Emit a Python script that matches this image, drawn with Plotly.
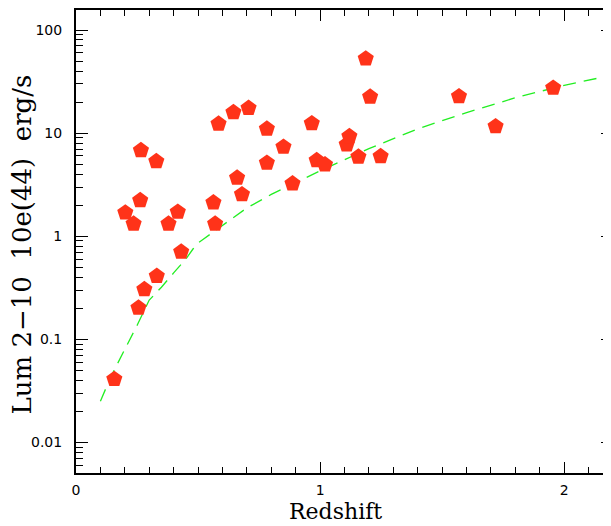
import plotly.graph_objects as go

# Data points (redshift, luminosity in 1e44 erg/s)
redshift = [0.157, 0.202, 0.236, 0.256, 0.263, 0.266, 0.280, 0.329, 0.331, 0.379,
            0.417, 0.431, 0.563, 0.570, 0.584, 0.645, 0.660, 0.680, 0.707, 0.782,
            0.782, 0.850, 0.887, 0.966, 0.986, 1.020, 1.109, 1.120, 1.157, 1.187,
            1.205, 1.248, 1.569, 1.719, 1.955]
lum = [0.041, 1.69, 1.32, 0.202, 2.23, 6.8, 0.305, 5.33, 0.41, 1.32,
       1.72, 0.706, 2.12, 1.32, 12.3, 15.9, 3.68, 2.54, 17.5, 11.0,
       5.14, 7.35, 3.24, 12.4, 5.45, 4.95, 7.74, 9.3, 5.88, 52.7,
       22.5, 5.96, 22.7, 11.6, 27.4]

# Dashed limit curve
curve_z = [0.10, 0.14, 0.20, 0.25, 0.30, 0.35, 0.40, 0.45, 0.48, 0.50, 0.52,
           0.60, 0.70, 0.80, 0.90, 1.00, 1.20, 1.40, 1.60, 1.80, 2.00, 2.20]
curve_l = [0.025, 0.042, 0.080, 0.136, 0.24, 0.32, 0.44, 0.60, 0.755, 0.86, 0.93,
           1.27, 1.88, 2.54, 3.3, 4.3, 7.06, 11.0, 15.8, 22.0, 29.1, 36.6]

y_tickvals = [0.01, 0.1, 1, 10, 100]
y_ticktext = ["0.01", "0.1", "1", "10", "100"]
x_tickvals = [0, 1, 2]
x_ticktext = ["0", "1", "2"]

y_minor = [m * 10 ** k for k in range(-3, 3) for m in range(2, 10)]

fig = go.Figure()
fig.add_trace(go.Scatter(
    x=curve_z, y=curve_l, mode="lines",
    line=dict(color="#22ee22", width=1.3, dash="13px,8px"),
    hoverinfo="skip", showlegend=False))
fig.add_trace(go.Scatter(
    x=redshift, y=lum, mode="markers",
    marker=dict(symbol="pentagon", size=17, color="#ff3319", line=dict(width=0)),
    showlegend=False))
# invisible trace for right-side ticks
fig.add_trace(go.Scatter(x=[None], y=[None], yaxis="y2", showlegend=False))

tickfont = dict(family="DejaVu Sans", size=14, color="black")
yrange = [-2.297, 2.194]

fig.update_layout(
    width=605, height=518,
    margin=dict(l=68, r=0, t=2, b=53),
    paper_bgcolor="white", plot_bgcolor="white",
    xaxis=dict(
        range=[0, 2.2], showgrid=False, zeroline=False,
        showline=True, linecolor="black", linewidth=2, mirror="ticks",
        ticks="inside", ticklen=11, tickwidth=1.3, tickcolor="black",
        tickmode="array", tickvals=x_tickvals, ticktext=x_ticktext,
        tickfont=tickfont, ticklabelstandoff=3,
        minor=dict(dtick=0.1, tick0=0, ticks="inside", ticklen=6,
                   tickwidth=1.3, tickcolor="black", showgrid=False),
    ),
    yaxis=dict(
        type="log", range=yrange, showgrid=False, zeroline=False,
        showline=True, linecolor="black", linewidth=2, mirror=False,
        ticks="inside", ticklen=12, tickwidth=1.3, tickcolor="black",
        tickmode="array", tickvals=y_tickvals, ticktext=y_ticktext,
        tickfont=tickfont, ticklabelstandoff=9,
        minor=dict(tickmode="array", tickvals=y_minor, ticks="inside",
                   ticklen=7, tickwidth=1.3, tickcolor="black", showgrid=False),
    ),
    yaxis2=dict(
        type="log", range=yrange, overlaying="y", side="right",
        showgrid=False, zeroline=False, showline=False,
        ticks="inside", ticklen=12, tickwidth=1.3, tickcolor="black",
        tickmode="array", tickvals=y_tickvals, showticklabels=False,
        minor=dict(tickmode="array", tickvals=y_minor, ticks="inside",
                   ticklen=7, tickwidth=1.3, tickcolor="black", showgrid=False),
    ),
    annotations=[
        dict(text="Redshift", xref="paper", yref="paper",
             x=(335 - 76) / 537, y=-(511 - 473) / 463,
             xanchor="center", yanchor="middle", showarrow=False,
             font=dict(family="DejaVu Serif", size=22, color="black")),
        dict(text="Lum 2−10  10e(44)  erg/s", xref="paper", yref="paper",
             x=-(76 - 21.5) / 537, y=(473 - 245) / 463, textangle=-90,
             xanchor="center", yanchor="middle", showarrow=False,
             font=dict(family="DejaVu Serif", size=26, color="black")),
    ],
)

fig.write_html("out.html")
